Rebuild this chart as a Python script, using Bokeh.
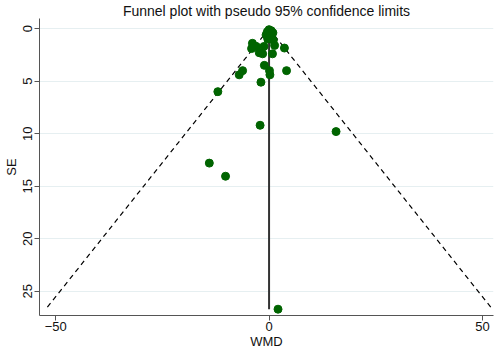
import numpy as np
from bokeh.plotting import figure
from bokeh.models import Range1d, FixedTicker
from bokeh.embed import file_html
from bokeh.resources import INLINE

# study estimates (WMD) and standard errors
wmd = [0.0, 0.5, -0.4, 0.9, -0.7, 0.3, 0.5, -0.3, 1.0,
       -3.9, -3.0, -1.2, 1.3, 3.6, -2.3, -1.5, 0.8, -4.1,
       -1.1, -6.2, -7.0, 0.1, 0.2, 4.1, -1.9, -12.0, -2.1, 15.7,
       -14.0, -10.2, 2.1]
se = [0.1, 0.2, 0.3, 0.4, 0.6, 0.7, 0.9, 1.0, 1.1,
      1.4, 1.7, 1.7, 1.6, 1.85, 2.3, 2.4, 2.4, 1.9,
      3.5, 4.0, 4.4, 4.0, 4.4, 4.0, 5.1, 6.0, 9.2, 9.8,
      12.8, 14.05, 26.7]
pooled = 0.0
x_ticks = [-50, 0, 50]
y_ticks = [0, 5, 10, 15, 20, 25]

FONT = "Liberation Sans"

p = figure(width=500, height=351, output_backend="svg", toolbar_location=None,
           title="Funnel plot with pseudo 95% confidence limits",
           x_range=Range1d(-53.8, 52.6), y_range=Range1d(27.3, -0.96),
           min_border_left=39, min_border_right=7, min_border_top=0, min_border_bottom=0)

p.title.align = "center"
p.title.text_font = FONT
p.title.text_font_size = "14px"
p.title.text_font_style = "normal"
p.title.text_color = "#111111"
p.title.standoff = 0

p.outline_line_color = None
p.background_fill_color = "white"
p.border_fill_color = "white"

p.xgrid.grid_line_color = None
p.ygrid.grid_line_color = "#e6eff1"
p.ygrid.grid_line_width = 1
p.ygrid.ticker = FixedTicker(ticks=y_ticks)

p.xaxis.ticker = FixedTicker(ticks=x_ticks)
p.yaxis.ticker = FixedTicker(ticks=y_ticks)
p.xaxis.axis_label = "WMD"
p.yaxis.axis_label = "SE"
for ax in (p.xaxis[0], p.yaxis[0]):
    ax.axis_line_color = "#555555"
    ax.major_tick_line_color = "#555555"
    ax.minor_tick_line_color = None
    ax.major_tick_out = 5
    ax.major_tick_in = 0
    ax.major_label_text_font = FONT
    ax.major_label_text_font_size = "13px"
    ax.major_label_text_color = "#111111"
    ax.axis_label_text_font = FONT
    ax.axis_label_text_font_size = "13px"
    ax.axis_label_text_font_style = "normal"
    ax.axis_label_text_color = "#111111"
    ax.major_label_standoff = 2
    ax.axis_label_standoff = 2
p.xaxis.major_label_standoff = 1
p.xaxis.axis_label_standoff = 0
p.yaxis.major_label_orientation = "vertical"

# pseudo 95% confidence limits
se_max = max(se)
p.line([pooled, pooled - 1.96 * se_max], [0, se_max], line_color="black",
       line_dash="5 4", line_width=1.2)
p.line([pooled, pooled + 1.96 * se_max], [0, se_max], line_color="black",
       line_dash="5 4", line_width=1.2)
# pooled estimate
p.line([pooled, pooled], [0, se_max], line_color="#333333", line_width=2)

p.scatter(wmd, se, size=8, fill_color="#006400", line_color="#006400")

open("out.html", "w").write(file_html(p, INLINE))
